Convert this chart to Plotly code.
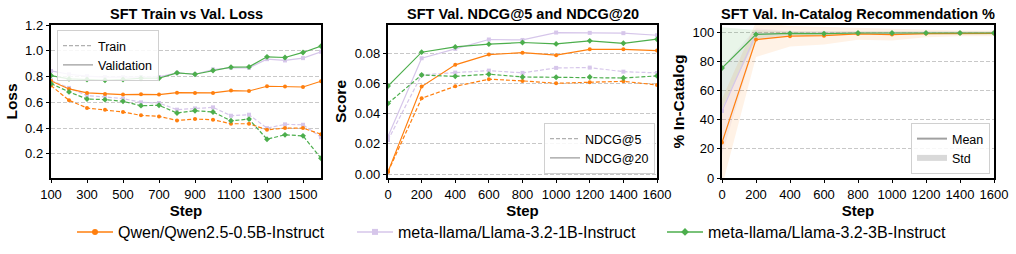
import plotly.graph_objects as go

# ---------------- data ----------------
loss_steps = [100, 200, 300, 400, 500, 600, 700, 800, 900, 1000, 1100, 1200, 1300, 1400, 1500, 1600]
val_qwen = [0.766, 0.704, 0.673, 0.665, 0.660, 0.662, 0.660, 0.675, 0.673, 0.673, 0.691, 0.688, 0.725, 0.722, 0.719, 0.764]
val_l1b = [0.844, 0.818, 0.803, 0.795, 0.795, 0.797, 0.797, 0.829, 0.818, 0.855, 0.868, 0.868, 0.935, 0.925, 0.943, 0.992]
val_l3b = [0.808, 0.782, 0.777, 0.771, 0.777, 0.787, 0.787, 0.829, 0.818, 0.847, 0.873, 0.875, 0.953, 0.948, 0.987, 1.036]
train_qwen = [0.730, 0.616, 0.556, 0.543, 0.525, 0.499, 0.491, 0.460, 0.470, 0.465, 0.434, 0.434, 0.387, 0.400, 0.400, 0.353]
train_l1b = [0.771, 0.712, 0.652, 0.642, 0.629, 0.600, 0.595, 0.543, 0.553, 0.561, 0.496, 0.504, 0.400, 0.429, 0.426, 0.330]
train_l3b = [0.745, 0.681, 0.626, 0.621, 0.608, 0.574, 0.577, 0.517, 0.535, 0.525, 0.457, 0.470, 0.314, 0.348, 0.340, 0.166]

eval_steps = [0, 200, 400, 600, 800, 1000, 1200, 1400, 1600]
ndcg20_qwen = [0.0015, 0.0579, 0.0723, 0.0791, 0.0804, 0.0787, 0.0826, 0.0826, 0.0818]
ndcg20_l1b = [0.0248, 0.0767, 0.0829, 0.0891, 0.0888, 0.0937, 0.0935, 0.0933, 0.0919]
ndcg20_l3b = [0.0583, 0.0807, 0.0842, 0.0860, 0.0871, 0.0862, 0.0882, 0.0866, 0.0893]
ndcg5_qwen = [0.0015, 0.0502, 0.0581, 0.0628, 0.0617, 0.0601, 0.0608, 0.0614, 0.0590]
ndcg5_l1b = [0.0225, 0.0656, 0.0672, 0.0685, 0.0670, 0.0703, 0.0705, 0.0678, 0.0670]
ndcg5_l3b = [0.0468, 0.0656, 0.0647, 0.0661, 0.0643, 0.0641, 0.0643, 0.0636, 0.0650]

cat_mean_qwen = [24.3, 95.0, 97.3, 97.7, 98.9, 98.4, 99.1, 99.3, 99.3]
cat_std_qwen = [30.0, 12.0, 7.0, 6.0, 4.0, 4.0, 2.5, 2.0, 2.0]
cat_mean_l1b = [46.0, 98.8, 99.3, 99.2, 99.4, 99.4, 99.5, 99.5, 99.5]
cat_std_l1b = [30.0, 4.0, 1.5, 1.5, 1.0, 1.0, 1.0, 1.0, 1.0]
cat_mean_l3b = [75.5, 98.6, 99.3, 99.1, 99.5, 99.5, 99.5, 99.5, 99.5]
cat_std_l3b = [28.0, 3.0, 1.2, 1.2, 1.0, 1.0, 1.0, 1.0, 1.0]

models = ["Qwen/Qwen2.5-0.5B-Instruct", "meta-llama/Llama-3.2-1B-Instruct", "meta-llama/Llama-3.2-3B-Instruct"]
colors = ["#ff7f0e", "#d6c6ea", "#4cae4c"]
fills = ["rgba(255,127,14,0.10)", "rgba(148,103,189,0.08)", "rgba(44,160,44,0.10)"]
symbols = ["circle", "square", "diamond"]

FONT = "Liberation Sans, Arial, sans-serif"
W, H = 1016, 254
DASH = "4px,2px"

fig = go.Figure()

def px_x(p):
    return p / W

def px_y(p):
    return 1 - p / H

# panel domains
dom1 = [px_x(51), px_x(321)]
dom2 = [px_x(388), px_x(657)]
dom3 = [px_x(722), px_x(994)]
ydom = [px_y(178), px_y(25)]

val_sets = [val_qwen, val_l1b, val_l3b]
train_sets = [train_qwen, train_l1b, train_l3b]
n20 = [ndcg20_qwen, ndcg20_l1b, ndcg20_l3b]
n5 = [ndcg5_qwen, ndcg5_l1b, ndcg5_l3b]
cmeans = [cat_mean_qwen, cat_mean_l1b, cat_mean_l3b]
cstds = [cat_std_qwen, cat_std_l1b, cat_std_l3b]

order = [1, 0, 2]  # draw lavender first so orange/green sit on top

def mk(i):
    return dict(symbol=symbols[i], size=4 if symbols[i] != "diamond" else 4.5, color=colors[i])

# Panel 3 std fills first
for i in order:
    up = [m + s for m, s in zip(cmeans[i], cstds[i])]
    lo = [m - s for m, s in zip(cmeans[i], cstds[i])]
    fig.add_trace(go.Scatter(x=eval_steps + eval_steps[::-1], y=up + lo[::-1], fill="toself",
                             fillcolor=fills[i], line=dict(width=0), mode="lines",
                             showlegend=False, hoverinfo="skip", xaxis="x3", yaxis="y3"))

for i in order:
    # panel 1
    fig.add_trace(go.Scatter(x=loss_steps, y=train_sets[i], mode="lines+markers",
                             line=dict(color=colors[i], width=1.2, dash=DASH), marker=mk(i),
                             showlegend=False, xaxis="x", yaxis="y"))
    fig.add_trace(go.Scatter(x=loss_steps, y=val_sets[i], mode="lines+markers",
                             line=dict(color=colors[i], width=1.2), marker=mk(i),
                             showlegend=False, xaxis="x", yaxis="y"))
    # panel 2
    fig.add_trace(go.Scatter(x=eval_steps, y=n5[i], mode="lines+markers",
                             line=dict(color=colors[i], width=1.2, dash=DASH), marker=mk(i),
                             showlegend=False, xaxis="x2", yaxis="y2"))
    fig.add_trace(go.Scatter(x=eval_steps, y=n20[i], mode="lines+markers",
                             line=dict(color=colors[i], width=1.2), marker=mk(i),
                             showlegend=False, xaxis="x2", yaxis="y2"))
    # panel 3
    fig.add_trace(go.Scatter(x=eval_steps, y=cmeans[i], mode="lines+markers",
                             line=dict(color=colors[i], width=1.2), marker=mk(i),
                             showlegend=False, xaxis="x3", yaxis="y3"))

# bottom model legends (one legend per entry for exact placement)
model_legends = ["legend", "legend5", "legend6"]
for i in range(3):
    fig.add_trace(go.Scatter(x=[None], y=[None], mode="lines+markers", name=models[i],
                             line=dict(color=colors[i], width=1.5), marker=dict(symbol=symbols[i], size=6, color=colors[i]),
                             legend=model_legends[i], xaxis="x", yaxis="y"))

# panel legends
fig.add_trace(go.Scatter(x=[None], y=[None], mode="lines", name="Train",
                         line=dict(color="#b0b0b0", width=1.3, dash=DASH), legend="legend2", xaxis="x", yaxis="y"))
fig.add_trace(go.Scatter(x=[None], y=[None], mode="lines", name="Validation",
                         line=dict(color="#a0a0a0", width=1.3), legend="legend2", xaxis="x", yaxis="y"))
fig.add_trace(go.Scatter(x=[None], y=[None], mode="lines", name="NDCG@5",
                         line=dict(color="#b0b0b0", width=1.3, dash=DASH), legend="legend3", xaxis="x2", yaxis="y2"))
fig.add_trace(go.Scatter(x=[None], y=[None], mode="lines", name="NDCG@20",
                         line=dict(color="#a0a0a0", width=1.3), legend="legend3", xaxis="x2", yaxis="y2"))
fig.add_trace(go.Scatter(x=[None], y=[None], mode="lines", name="Mean",
                         line=dict(color="#a0a0a0", width=2), legend="legend4", xaxis="x3", yaxis="y3"))
fig.add_trace(go.Scatter(x=[None], y=[None], mode="none", name="Std", fill="toself",
                         fillcolor="#d9d9d9", legend="legend4", xaxis="x3", yaxis="y3"))

axis_common = dict(showline=True, mirror=True, linecolor="black", linewidth=1.5,
                   ticks="outside", ticklen=3.5, tickwidth=1, tickcolor="black", automargin=False,
                   tickfont=dict(family=FONT, size=13, color="black"), zeroline=False)
xcommon = dict(axis_common, showgrid=False,
               title=dict(text="<b>Step</b>", font=dict(family=FONT, size=15, color="black"), standoff=0))
ycommon = dict(axis_common, showgrid=True, gridcolor="#c8c8c8", griddash=DASH, gridwidth=0.8)
ytitle_font = dict(family=FONT, size=15.5, color="black")
leg_font = dict(family=FONT, size=12.5, color="black")
bot_font = dict(family=FONT, size=16, color="black")

bottom_text_x = [118, 398, 708]
bot_leg = {}
for name, tx in zip(model_legends, bottom_text_x):
    bot_leg[name] = dict(x=px_x(tx - 46), xanchor="left", y=px_y(232), yanchor="middle", font=bot_font,
                         bgcolor="rgba(0,0,0,0)", itemwidth=36)

fig.update_layout(
    width=W, height=H, margin=dict(l=0, r=0, t=0, b=0),
    plot_bgcolor="white", paper_bgcolor="white",
    font=dict(family=FONT, color="black"),
    xaxis=dict(xcommon, domain=dom1, range=[100, 1600], tickvals=[100, 300, 500, 700, 900, 1100, 1300, 1500]),
    yaxis=dict(ycommon, domain=ydom, range=[0.013, 1.2], tickvals=[0.2, 0.4, 0.6, 0.8, 1.0, 1.2], tickformat=".1f",
               title=dict(text="<b>Loss</b>", font=ytitle_font, standoff=4)),
    xaxis2=dict(xcommon, domain=dom2, anchor="y2", range=[0, 1600], tickvals=eval_steps),
    yaxis2=dict(ycommon, domain=ydom, anchor="x2", range=[-0.0026, 0.0987], tickvals=[0, 0.02, 0.04, 0.06, 0.08],
                tickformat=".2f", title=dict(text="<b>Score</b>", font=ytitle_font, standoff=4)),
    xaxis3=dict(xcommon, domain=dom3, anchor="y3", range=[0, 1600], tickvals=eval_steps),
    yaxis3=dict(ycommon, domain=ydom, anchor="x3", range=[0, 105], tickvals=[0, 20, 40, 60, 80, 100],
                title=dict(text="<b>% In-Catalog</b>", font=ytitle_font, standoff=4)),
    legend=bot_leg["legend"],
    legend5=bot_leg["legend5"],
    legend6=bot_leg["legend6"],
    legend2=dict(x=px_x(57), xanchor="left", y=px_y(30), yanchor="top", font=leg_font,
                 bgcolor="rgba(255,255,255,0.85)", bordercolor="#d0d0d0", borderwidth=1, tracegroupgap=0),
    legend3=dict(x=px_x(655), xanchor="right", y=px_y(174), yanchor="bottom", font=leg_font,
                 bgcolor="rgba(255,255,255,0.85)", bordercolor="#d0d0d0", borderwidth=1),
    legend4=dict(x=px_x(990), xanchor="right", y=px_y(174), yanchor="bottom", font=leg_font,
                 bgcolor="rgba(255,255,255,0.85)", bordercolor="#d0d0d0", borderwidth=1),
)

titles = [("SFT Train vs Val. Loss", dom1), ("SFT Val. NDCG@5 and NDCG@20", dom2),
          ("SFT Val. In-Catalog Recommendation %", dom3)]
for t, d in titles:
    fig.add_annotation(text="<b>" + t + "</b>", x=(d[0] + d[1]) / 2, y=px_y(14), xref="paper", yref="paper",
                       showarrow=False, font=dict(family=FONT, size=14.5, color="black"), xanchor="center", yanchor="middle")

fig.write_html("out.html", config={"displayModeBar": False},
               post_script="document.body.style.margin='0';document.body.style.padding='0';")
